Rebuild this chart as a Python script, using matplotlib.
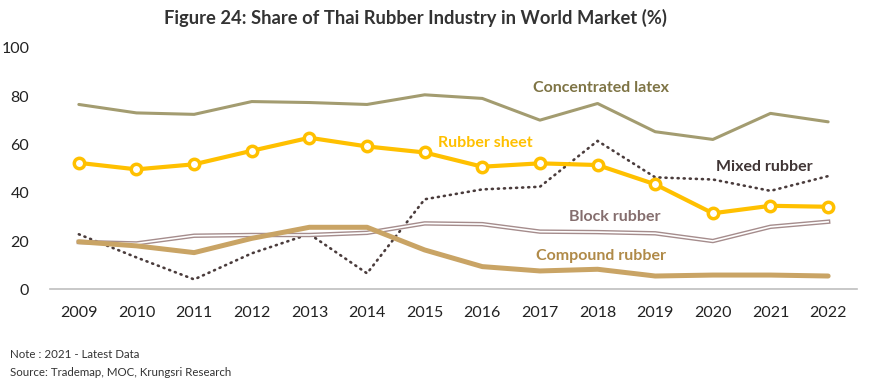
import matplotlib
matplotlib.use("Agg")
import matplotlib.pyplot as plt

years = [2009, 2010, 2011, 2012, 2013, 2014, 2015, 2016, 2017, 2018, 2019, 2020, 2021, 2022]
concentrated_latex = [76.6, 73.1, 72.5, 77.8, 77.4, 76.6, 80.6, 79.1, 70.1, 77.0, 65.3, 62.1, 72.9, 69.4]
rubber_sheet = [52.4, 49.7, 51.8, 57.4, 62.8, 59.2, 56.7, 50.8, 52.2, 51.5, 43.5, 31.5, 34.6, 34.2]
mixed_rubber = [22.8, 13.2, 4.1, 14.9, 22.9, 6.6, 37.3, 41.4, 42.5, 61.5, 46.4, 45.5, 40.8, 46.9]
block_rubber = [19.6, 19.0, 22.2, 22.5, 22.5, 23.4, 27.3, 27.0, 23.9, 23.7, 23.2, 20.0, 25.9, 28.0]
compound_rubber = [19.7, 18.0, 15.2, 21.1, 25.7, 25.7, 16.3, 9.4, 7.6, 8.3, 5.5, 5.9, 5.9, 5.5]
yticks = [0, 20, 40, 60, 80, 100]

plt.rcParams['font.family'] = ['Lato', 'DejaVu Sans']

fig = plt.figure(figsize=(8.7, 3.88), dpi=100)
ax = fig.add_axes([0.0575, 0.2544, 0.9275, 0.6219])

x = list(range(len(years)))

ax.plot(x, concentrated_latex, color='#A39C70', lw=2.2, solid_capstyle='round', zorder=3)
ax.plot(x, mixed_rubber, color='#4A3C3C', lw=1.9, linestyle=(0, (0.4, 1.9)), dash_capstyle='round', zorder=3)
ax.plot(x, block_rubber, color='#A58C8C', lw=3.2, zorder=3)
ax.plot(x, block_rubber, color='white', lw=1.2, zorder=3.1)
ax.plot(x, compound_rubber, color='#C9A465', lw=3.6, solid_capstyle='round', zorder=3.2)
ax.plot(x, rubber_sheet, color='#FFC000', lw=3.0, marker='o', markersize=7.5,
        markerfacecolor='white', markeredgecolor='#FFC000', markeredgewidth=2.5, zorder=4)

ax.set_xlim(-0.5, len(years) - 0.5)
ax.set_ylim(0, 100)
ax.set_yticks(yticks)
ax.set_xticks(x)
ax.set_xticklabels([str(y) for y in years])
ax.tick_params(axis='both', length=0, labelsize=11.5, colors='#222222')
ax.tick_params(axis='x', pad=12)
ax.tick_params(axis='y', pad=15)
for s in ['top', 'right', 'left']:
    ax.spines[s].set_visible(False)
ax.spines['bottom'].set_color('#BFBFBF')
ax.spines['bottom'].set_linewidth(1.2)

kw = dict(fontsize=11.5, fontweight='bold', ha='center', va='center')
ax.text(9.06, 83.4, 'Concentrated latex', color='#7E7445', **kw)
ax.text(7.05, 60.6, 'Rubber sheet', color='#FFC000', **kw)
ax.text(11.89, 50.6, 'Mixed rubber', color='#403535', **kw)
ax.text(9.3, 29.9, 'Block rubber', color='#856E6E', **kw)
ax.text(9.06, 13.8, 'Compound rubber', color='#B08A48', **kw)

fig.text(0.477, 0.953, 'Figure 24: Share of Thai Rubber Industry in World Market (%)',
         fontsize=13.2, fontweight='bold', ha='center', va='center', color='#333333')
fig.text(0.012, 0.086, 'Note : 2021 - Latest Data', fontsize=8.3, ha='left', va='center', color='#333333')
fig.text(0.012, 0.040, 'Source: Trademap, MOC, Krungsri Research', fontsize=8.3, ha='left', va='center', color='#333333')

fig.savefig('out.png', dpi=100)
